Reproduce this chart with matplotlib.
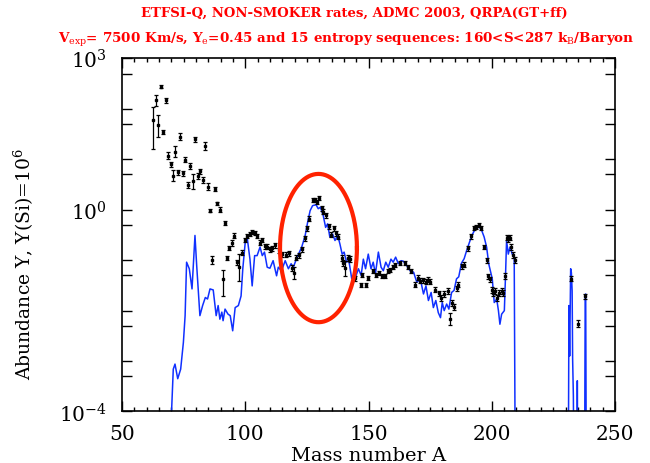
import matplotlib

matplotlib.use("Agg")
import matplotlib.pyplot as plt
import numpy as np
from matplotlib.ticker import FixedFormatter, FixedLocator, MultipleLocator

# .. Calculated r-process abundances (mass number, log10 of abundance).
model_A = [
    69.9, 70.1, 70.8, 71.5, 72.6, 73.8, 74.9, 75.6, 76.2, 77.3, 78.4, 79.6,
    80.3, 81.6, 82.7, 83.8, 84.7, 85.7, 87.0, 88.2, 89.0, 89.7, 90.5, 91.0,
    91.8, 93.0, 93.9, 94.9, 95.9, 97.2, 98.3, 99.0, 100.0, 100.8, 101.9,
    102.8, 103.8, 104.8, 106.0, 106.9, 107.8, 108.9, 110.0, 111.3, 112.7,
    113.4, 114.7, 116.2, 117.5, 118.6, 119.5, 120.5, 121.6, 122.9, 124.3,
    125.3, 126.3, 127.3, 128.7, 129.6, 130.5, 131.6, 132.6, 133.4, 134.3,
    135.4, 136.4, 137.5, 138.4, 139.3, 140.1, 141.1, 142.0, 143.2, 144.5,
    145.9, 147.0, 147.9, 148.8, 149.9, 151.0, 151.9, 152.8, 154.0, 155.1,
    156.0, 157.0, 158.0, 159.1, 160.0, 161.0, 162.1, 163.2, 164.1, 165.5,
    166.9, 168.3, 169.6, 171.0, 172.3, 173.3, 174.3, 175.4, 176.3, 177.3,
    178.3, 179.2, 179.9, 180.7, 181.7, 182.6, 183.7, 184.7, 185.7, 186.6,
    187.7, 188.8, 189.8, 190.7, 191.9, 193.0, 193.9, 194.8, 195.9, 196.9,
    197.9, 198.8, 199.7, 200.2, 201.0, 202.0, 202.7, 203.3, 204.0, 205.1,
    205.6, 206.0, 206.7, 207.4, 208.3, 209.1, 209.3, 209.6,
    231.0, 231.3, 231.6, 232.0, 232.3, 232.6, 232.8, 233.1, 233.4,
    234.6, 234.7, 234.9, 237.6, 237.9, 238.1, 238.4,
]
model_logY = [
    -6.0, -4.0, -3.16, -3.06, -3.35, -3.16, -2.63, -2.10, -1.04, -1.17,
    -1.57, -0.51, -1.11, -2.10, -1.90, -1.74, -1.77, -1.57, -1.59, -2.10,
    -1.90, -2.17, -2.03, -2.20, -1.97, -2.07, -2.10, -2.40, -1.94, -1.90,
    -1.71, -1.17, -0.64, -0.56, -0.98, -1.51, -0.91, -0.91, -0.74, -0.91,
    -0.84, -1.14, -1.16, -1.01, -1.31, -1.14, -1.21, -1.01, -1.17, -1.07,
    -1.14, -1.01, -0.88, -0.74, -0.51, -0.25, -0.02, 0.08, 0.10, 0.02,
    0.05, -0.11, -0.35, -0.28, -0.54, -0.48, -0.61, -0.51, -0.68, -0.88,
    -0.84, -1.04, -1.00, -1.37, -1.37, -1.17, -1.30, -0.98, -1.17, -0.88,
    -1.17, -1.04, -1.27, -0.84, -1.14, -1.21, -1.04, -1.14, -0.98, -1.04,
    -0.94, -1.07, -1.01, -1.02, -1.11, -1.21, -1.24, -1.44, -1.37, -1.67,
    -1.51, -1.80, -1.64, -1.94, -1.80, -2.04, -2.14, -1.84, -2.00, -1.87,
    -1.97, -1.64, -1.60, -1.37, -1.33, -1.06, -0.97, -0.81, -0.68, -0.51,
    -0.41, -0.36, -0.33, -0.41, -0.54, -0.74, -1.08, -1.27, -1.37, -1.84,
    -1.77, -2.00, -2.27, -2.07, -2.00, -1.27, -0.61, -0.88, -0.74, -0.88,
    -0.94, -2.80, -6.0,
    -6.0, -1.90, -2.90, -1.17, -1.25, -1.61, -2.96, -3.69, -6.0,
    -6.0, -3.39, -6.0, -6.0, -1.70, -1.67, -6.0,
]

# .. Solar r-process abundances with lower/upper errors (in dex).
obs_A = [
    62.7, 63.7, 64.7, 65.7, 66.8, 67.7, 68.8, 69.8, 70.7, 71.6, 72.8, 73.5,
    74.6, 75.7, 76.6, 77.6, 78.8, 79.6, 80.8, 81.6, 82.7, 83.7, 84.8, 85.7,
    86.6, 87.9, 88.7, 89.8, 90.8, 91.8, 92.6, 93.5, 94.5, 95.6, 96.8, 97.6,
    98.7, 99.9, 100.8, 101.8, 102.8, 103.8, 104.8, 105.9, 106.9, 107.9,
    108.9, 109.9, 111.0, 112.1, 113.7, 115.0, 116.5, 117.6, 118.8, 119.9,
    120.6, 121.6, 122.9, 124.2, 125.2, 126.0, 127.6, 128.3, 128.9, 129.9,
    131.0, 131.7, 132.6, 133.8, 134.7, 135.8, 136.7, 137.5, 139.1, 139.8,
    140.5, 141.6, 142.5, 144.5, 147.0, 147.5, 148.9, 149.7, 151.7, 153.1,
    154.4, 155.4, 156.7, 157.8, 158.9, 159.8, 160.8, 162.6, 164.6, 166.0,
    167.3, 168.9, 170.0, 170.9, 172.0, 173.2, 174.0, 174.9, 177.0, 178.4,
    179.6, 180.8, 182.1, 183.1, 184.0, 184.7, 185.7, 186.4, 188.1, 188.8,
    190.2, 191.5, 192.9, 193.8, 194.8, 195.6, 197.0, 198.0, 198.6, 199.3,
    200.0, 200.7, 201.4, 202.0, 203.0, 204.0, 204.6, 205.4, 206.1, 206.7,
    207.3, 207.7, 208.7, 209.4, 232.0, 235.0, 238.0,
]
obs_logY = [
    1.78, 2.17, 1.68, 2.44, 1.55, 2.17, 1.07, 0.90, 0.67, 1.15, 0.74, 1.45,
    0.72, 0.99, 0.49, 0.86, 0.56, 1.40, 0.66, 0.76, 0.58, 1.26, 0.46, -0.02,
    -1.00, 0.41, 0.13, 0.00, -1.38, -0.26, -0.95, -0.76, -0.66, -0.52, -1.04,
    -1.14, -0.85, -0.60, -0.52, -0.48, -0.45, -0.46, -0.52, -0.65, -0.60,
    -0.72, -0.73, -0.78, -0.76, -0.70, -0.80, -0.88, -0.89, -0.86, -1.15,
    -1.26, -0.95, -0.90, -0.78, -0.57, -0.37, -0.18, 0.19, 0.19, 0.15, 0.23,
    0.03, -0.04, -0.11, -0.33, -0.50, -0.37, -0.47, -0.54, -0.96, -1.06,
    -1.16, -0.96, -0.98, -1.36, -1.49, -1.29, -1.49, -1.35, -1.22, -1.30,
    -1.25, -1.32, -1.32, -1.22, -1.19, -1.14, -1.10, -1.06, -1.06, -1.14,
    -1.21, -1.49, -1.35, -1.41, -1.40, -1.43, -1.39, -1.43, -1.59, -1.66,
    -1.75, -1.68, -1.62, -2.16, -1.85, -1.92, -1.56, -1.49, -1.12, -1.09,
    -0.76, -0.53, -0.37, -0.34, -0.30, -0.37, -0.73, -1.00, -1.32, -1.38,
    -1.59, -1.65, -1.62, -1.75, -1.65, -1.62, -1.66, -1.32, -0.56, -0.58,
    -0.56, -0.73, -0.90, -1.00, -1.37, -2.26, -1.72,
]
obs_err_lo = [
    0.58, 0.11, 0.23, 0.03, 0.04, 0.05, 0.07, 0.05, 0.11, 0.11, 0.05, 0.07,
    0.05, 0.05, 0.05, 0.06, 0.14, 0.05, 0.06, 0.05, 0.06, 0.08, 0.06, 0.03,
    0.08, 0.04, 0.03, 0.05, 0.34, 0.04, 0.04, 0.04, 0.05, 0.05, 0.05, 0.27,
    0.05, 0.04, 0.04, 0.04, 0.04, 0.04, 0.04, 0.05, 0.04, 0.05, 0.05, 0.05,
    0.05, 0.05, 0.05, 0.05, 0.05, 0.05, 0.06, 0.12, 0.05, 0.05, 0.05, 0.05,
    0.05, 0.05, 0.04, 0.04, 0.04, 0.04, 0.05, 0.05, 0.05, 0.05, 0.05, 0.05,
    0.05, 0.05, 0.06, 0.06, 0.15, 0.06, 0.06, 0.05, 0.04, 0.04, 0.04, 0.04,
    0.04, 0.04, 0.04, 0.04, 0.04, 0.04, 0.04, 0.04, 0.04, 0.04, 0.04, 0.04,
    0.04, 0.05, 0.05, 0.05, 0.05, 0.05, 0.05, 0.05, 0.05, 0.05, 0.06, 0.06,
    0.06, 0.12, 0.06, 0.06, 0.05, 0.05, 0.05, 0.05, 0.05, 0.05, 0.04, 0.04,
    0.04, 0.04, 0.04, 0.05, 0.05, 0.05, 0.06, 0.06, 0.06, 0.06, 0.06, 0.06,
    0.06, 0.06, 0.05, 0.05, 0.05, 0.06, 0.06, 0.06, 0.05, 0.07, 0.05,
]
obs_err_hi = list(obs_err_lo)
obs_err_hi[0] = 0.26
obs_err_hi[2] = 0.19
obs_err_hi[28] = 0.19

# .. Red ring around the A~130 peak (centre, half-width in A, half-height in dex).
ring_A, ring_logY = 129.7, -0.76
ring_half_A, ring_half_dex = 15.6, 1.47

title_line1 = "ETFSI-Q, NON-SMOKER rates, ADMC 2003, QRPA(GT+ff)"
title_line2 = (r"V$_{\rm exp}$= 7500 Km/s, Y$_{\rm e}$=0.45 and 15 entropy "
               r"sequences: 160<S<287 k$_{\rm B}$/Baryon")

plt.rcParams["font.family"] = "DejaVu Serif"
plt.rcParams["mathtext.fontset"] = "dejavuserif"

fig = plt.figure(figsize=(6.5, 4.64), dpi=100)
ax = fig.add_axes([0.1877, 0.111, 0.7585, 0.761])

# .. Model curve.
ax.plot(model_A, 10.0 ** np.array(model_logY), color="#1030ff", lw=1.1,
        zorder=2)

# .. Observed points with error bars.
y_obs = 10.0 ** np.array(obs_logY)
err_lo = y_obs - 10.0 ** (np.array(obs_logY) - np.array(obs_err_lo))
err_hi = 10.0 ** (np.array(obs_logY) + np.array(obs_err_hi)) - y_obs
ax.errorbar(obs_A, y_obs, yerr=[err_lo, err_hi], fmt="s", ms=2.0,
            color="black", ecolor="black", elinewidth=0.9, capsize=1.6,
            capthick=0.9, zorder=3)

# .. Ring drawn through the data scales.
t = np.linspace(0.0, 2.0 * np.pi, 300)
ax.plot(ring_A + ring_half_A * np.cos(t),
        10.0 ** (ring_logY + ring_half_dex * np.sin(t)),
        color="#ff2200", lw=3.0, zorder=4)

ax.set_xlim(50, 250)
ax.set_yscale("log")
ax.set_ylim(1e-4, 1e3)

# .. Ticks: inward, on all four sides.
ax.xaxis.set_major_locator(MultipleLocator(50))
ax.xaxis.set_minor_locator(MultipleLocator(5))
decades = [10.0 ** k for k in range(-4, 4)]
halves = [5 * 10.0 ** k for k in range(-4, 3)]
ax.yaxis.set_major_locator(FixedLocator(decades))
ax.yaxis.set_major_formatter(FixedFormatter(
    [r"$10^{-4}$", "", "", "", r"$10^{0}$", "", "", r"$10^{3}$"]))
ax.yaxis.set_minor_locator(FixedLocator(halves))
ax.yaxis.set_minor_formatter(FixedFormatter([""] * len(halves)))
ax.tick_params(which="both", direction="in", top=True, right=True,
               width=1.0, colors="black", labelsize=14.5)
ax.tick_params(axis="x", which="major", length=7, pad=9)
ax.tick_params(axis="x", which="minor", length=3.2)
ax.tick_params(axis="y", which="both", length=7, pad=11)
for spine in ax.spines.values():
    spine.set_linewidth(1.2)

ax.set_xlabel("Mass number A", fontsize=14)
ax.xaxis.set_label_coords(0.5, -0.097)
ax.set_ylabel(r"Abundance Y, Y(Si)=10$^6$", fontsize=13.5)
ax.yaxis.set_label_coords(-0.175, 0.42)

fig.text(0.545, 0.972, title_line1, color="red", fontsize=9.5,
         fontweight="bold", ha="center", va="center")
fig.text(0.532, 0.914, title_line2, color="red", fontsize=9.7,
         fontweight="bold", ha="center", va="center")

fig.savefig("out.png", dpi=100)
